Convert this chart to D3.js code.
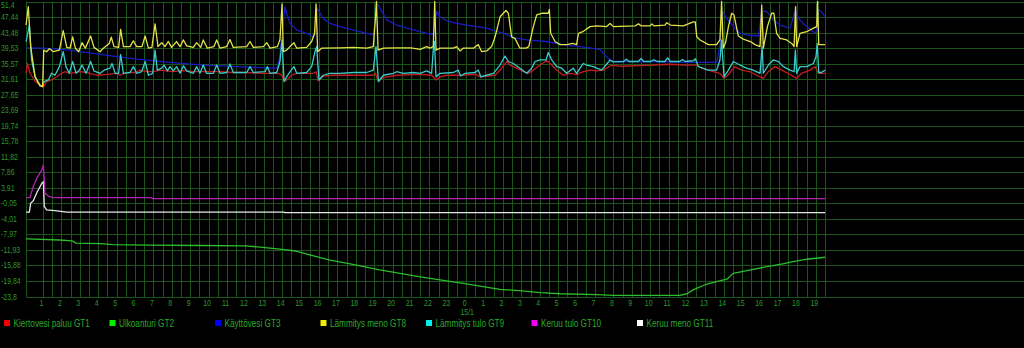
<!DOCTYPE html>
<html lang="fi">
<head>
<meta charset="utf-8">
<title>Lämpötilat</title>
<script src="https://d3js.org/d3.v7.min.js"></script>
<style>
  html, body { margin: 0; padding: 0; background: #000; overflow: hidden; }
  svg { display: block; }
  text { font-family: "Liberation Sans", Arial, sans-serif; }
</style>
</head>
<body>
<div id="chart"></div>
<script>
// time is hours counted from 14/1 00:00, values in degrees

var yTicks = [51.4, 47.44, 43.48, 39.53, 35.57, 31.61, 27.65, 23.69, 19.74, 15.78,
    11.82, 7.86, 3.91, -0.05, -4.01, -7.97, -11.93, -15.88, -19.84, -23.8];
var hourTicks = d3.range(1, 44);   // 1..23, 0 (15/1), 1..19
var dayLabel = "15/1";

var names = ["Kiertovesi paluu GT1", "Ulkoanturi GT2", "Käyttövesi GT3", "Lämmitys meno GT8",
    "Lämmitys tulo GT9", "Keruu tulo GT10", "Keruu meno GT11"];

var gt1 = [[0.08,33.1],[0.15,35.6],[0.3,33.1],[0.57,31.0],[0.84,30.1],[1.02,29.5],[1.2,31.0],[1.47,31.4],[1.74,32.2],[2.01,33.1],[2.2,33.5],[2.47,33.1],[3.01,33.5],[3.4,33.3],[3.92,32.6],[4.5,32.8],[5.0,33.1],[5.18,32.6],[5.55,33.3],[6.0,33.3],[6.27,33.9],[6.65,33.5],[7.0,33.5],[7.36,33.9],[7.72,33.7],[8.08,33.5],[8.45,33.7],[8.81,33.7],[9.17,33.5],[9.89,33.5],[10.62,33.5],[11.34,33.3],[12.07,33.3],[12.79,33.1],[13.79,33.1],[13.97,32.6],[14.15,31.0],[14.33,31.8],[14.51,32.6],[14.79,33.1],[15.69,33.1],[15.84,33.5],[15.96,31.2],[16.23,32.4],[16.77,32.6],[17.87,32.6],[18.95,32.6],[19.06,33.1],[19.23,31.0],[19.41,31.8],[19.68,32.2],[20.22,32.6],[21.49,32.8],[22.12,32.6],[22.36,31.4],[22.58,32.2],[22.94,32.6],[23.66,32.6],[24.57,32.8],[24.75,32.2],[25.57,32.6],[25.93,34.4],[26.2,36.1],[26.38,35.2],[26.74,34.4],[27.11,33.5],[27.38,33.1],[27.65,33.9],[28.01,35.2],[28.37,36.3],[28.65,35.2],[28.92,33.9],[29.28,32.6],[29.64,33.1],[30.0,32.8],[30.37,33.5],[30.73,33.9],[31.09,33.7],[31.45,33.9],[31.9,35.2],[32.36,34.9],[34.17,35.2],[35.08,35.4],[35.98,35.2],[36.53,35.2],[36.8,34.4],[37.16,33.9],[37.43,33.5],[37.79,33.1],[38.01,31.8],[38.25,32.8],[38.6,34.8],[38.97,33.9],[39.42,33.5],[39.79,32.6],[40.15,31.8],[40.42,33.5],[40.78,34.8],[41.15,33.9],[41.6,32.8],[41.96,31.8],[42.23,33.1],[42.69,33.9],[42.96,34.8],[43.14,33.1],[43.5,33.1]];

var gt2 = [[0.08,-9.1],[1.92,-9.4],[2.58,-9.6],[2.79,-10.2],[4.1,-10.3],[4.8,-10.6],[6.8,-10.7],[9.53,-10.8],[11.98,-10.9],[12.8,-11.2],[13.88,-11.7],[14.7,-12.2],[15.5,-13.2],[16.6,-14.5],[17.7,-15.5],[19.3,-17.0],[21.5,-18.8],[23.66,-20.3],[25.84,-22.0],[26.9,-22.3],[28.0,-22.8],[29.1,-23.1],[31.1,-23.3],[31.98,-23.5],[35.62,-23.5],[36.0,-23.1],[36.33,-22.1],[36.98,-20.8],[37.6,-20.0],[38.17,-19.4],[38.5,-17.9],[39.26,-17.2],[40.35,-16.2],[41.2,-15.5],[41.76,-14.9],[42.52,-14.3],[43.5,-13.8]];

var gt3 = [[0.08,39.6],[1.02,39.5],[2.47,39.0],[4.28,37.8],[6.09,36.7],[7.9,35.9],[9.71,35.2],[11.52,34.8],[13.7,34.4],[13.84,36.5],[14.0,43.1],[14.15,50.1],[14.24,48.4],[14.43,45.8],[14.79,44.1],[15.33,43.3],[15.69,42.4],[15.8,43.0],[15.9,49.7],[16.23,47.1],[16.6,45.8],[17.14,45.0],[17.87,44.1],[18.95,42.9],[19.05,46.0],[19.15,51.0],[19.31,49.7],[19.68,46.7],[20.22,45.4],[20.77,44.6],[21.49,43.7],[22.21,42.9],[22.3,46.0],[22.4,48.9],[22.58,47.5],[22.94,46.5],[23.3,46.0],[24.03,45.4],[25.11,44.6],[26.02,43.3],[26.56,42.2],[27.29,41.6],[28.37,41.2],[29.28,40.4],[30.19,39.9],[31.27,39.2],[31.63,37.3],[31.9,36.1],[34.17,36.1],[35.98,35.9],[37.61,35.9],[37.79,40.0],[37.94,48.9],[38.16,47.1],[38.52,45.0],[38.88,43.3],[39.24,42.9],[39.88,42.6],[40.06,48.9],[40.33,48.9],[40.69,46.7],[41.05,45.4],[41.6,44.6],[41.87,48.9],[42.14,46.7],[42.5,45.0],[42.96,43.3],[43.05,44.1],[43.14,49.3],[43.3,48.9],[43.5,47.5]];

var gt8 = [[0.08,45.4],[0.2,50.1],[0.33,39.9],[0.57,32.2],[0.84,29.9],[0.98,29.7],[1.04,39.0],[1.2,38.6],[1.34,39.4],[1.56,38.6],[1.89,39.0],[2.1,44.0],[2.29,39.7],[2.47,39.5],[2.61,42.4],[2.76,39.5],[2.94,38.6],[3.12,40.9],[3.3,39.5],[3.59,42.6],[3.77,39.7],[4.1,38.6],[4.28,39.5],[4.6,40.7],[4.71,42.3],[4.86,39.9],[5.11,39.7],[5.22,44.3],[5.37,39.9],[5.73,39.9],[5.91,41.4],[6.09,39.9],[6.38,39.9],[6.55,42.6],[6.73,39.5],[6.92,39.7],[7.09,45.7],[7.25,39.9],[7.45,40.9],[7.63,39.9],[7.81,41.2],[7.99,39.7],[8.26,41.2],[8.45,39.9],[8.63,41.6],[8.81,40.1],[9.17,39.7],[9.35,40.9],[9.57,39.7],[9.71,41.6],[9.93,39.5],[10.29,39.9],[10.44,41.6],[10.62,39.5],[10.98,39.9],[11.16,41.7],[11.34,39.7],[12.07,39.9],[12.25,41.2],[12.43,39.7],[12.98,39.9],[13.16,40.9],[13.34,39.5],[13.74,39.9],[13.88,41.7],[13.99,50.8],[14.06,38.6],[14.24,39.0],[14.46,40.1],[14.64,40.9],[14.79,39.5],[15.33,39.7],[15.6,41.2],[15.76,43.3],[15.84,50.8],[15.93,38.6],[16.14,39.5],[17.14,39.6],[17.87,39.7],[18.59,39.5],[18.95,39.9],[19.06,46.7],[19.12,51.4],[19.21,39.0],[19.5,39.5],[20.22,39.6],[21.0,39.6],[21.49,39.2],[21.85,39.9],[22.03,39.5],[22.21,39.9],[22.29,51.4],[22.36,39.0],[22.58,39.5],[23.3,39.5],[23.48,39.9],[23.66,38.8],[23.84,39.5],[24.39,39.5],[24.66,40.4],[24.84,38.6],[25.11,38.8],[25.38,39.9],[25.57,42.4],[25.84,47.5],[26.16,49.1],[26.29,48.4],[26.47,42.4],[26.65,42.0],[26.92,39.5],[27.25,39.5],[27.4,39.9],[27.65,45.0],[27.83,48.0],[28.1,48.4],[28.46,48.4],[28.52,49.4],[28.59,43.3],[28.83,41.2],[29.1,40.4],[29.46,40.4],[29.79,40.7],[30.0,40.4],[30.1,43.3],[30.37,43.8],[30.73,45.0],[31.09,45.2],[31.63,45.0],[31.82,45.8],[32.0,45.0],[33.2,45.2],[33.36,45.7],[33.5,45.2],[33.99,45.2],[34.1,45.7],[34.2,45.2],[34.8,45.4],[34.9,46.0],[35.1,45.4],[35.8,45.2],[36.34,46.2],[36.45,46.2],[36.53,42.4],[36.71,41.6],[37.16,40.4],[37.61,40.4],[37.79,41.6],[37.88,51.4],[37.97,39.5],[38.1,41.0],[38.25,45.0],[38.43,48.4],[38.55,48.0],[38.79,42.6],[39.06,41.8],[39.44,41.2],[39.7,40.4],[39.97,39.9],[40.06,50.5],[40.15,39.5],[40.37,45.0],[40.6,48.4],[40.72,48.4],[40.87,43.3],[41.06,42.0],[41.42,41.6],[41.69,40.7],[41.82,39.9],[41.9,50.1],[41.96,39.9],[42.14,43.3],[42.5,43.7],[42.87,44.6],[43.05,45.0],[43.1,51.4],[43.16,40.4],[43.5,40.4]];

var gt9 = [[0.08,41.2],[0.26,45.4],[0.38,36.5],[0.57,32.2],[0.84,30.1],[0.98,29.7],[1.06,31.0],[1.29,31.4],[1.47,33.1],[1.65,32.6],[1.89,34.8],[2.1,38.6],[2.25,34.8],[2.43,33.1],[2.61,36.1],[2.8,33.1],[2.98,33.9],[3.12,35.2],[3.34,33.1],[3.59,36.1],[3.77,33.7],[4.1,33.1],[4.32,33.9],[4.64,34.4],[4.75,35.6],[4.92,33.1],[5.11,33.1],[5.22,37.9],[5.37,33.1],[5.73,33.3],[5.91,34.8],[6.09,33.1],[6.36,33.5],[6.55,36.1],[6.73,32.6],[6.96,33.1],[7.09,39.0],[7.21,33.9],[7.45,34.4],[7.58,35.2],[7.76,33.7],[7.9,34.8],[8.08,33.7],[8.26,34.8],[8.45,33.1],[8.63,35.0],[8.81,33.7],[9.17,33.1],[9.35,34.8],[9.53,33.1],[9.71,35.2],[9.89,33.1],[10.26,33.1],[10.44,35.2],[10.62,33.1],[10.98,33.3],[11.16,35.5],[11.34,33.3],[12.07,33.3],[12.25,34.8],[12.43,33.3],[13.07,33.5],[13.19,34.8],[13.34,33.1],[13.7,33.3],[13.88,36.1],[13.99,41.6],[14.1,31.0],[14.24,32.2],[14.46,33.7],[14.64,34.8],[14.79,33.1],[15.33,33.3],[15.6,34.8],[15.8,39.0],[15.87,39.9],[16.0,31.4],[16.23,32.6],[16.6,33.1],[17.14,33.1],[17.87,33.3],[18.59,33.3],[18.95,33.9],[19.1,39.9],[19.23,31.0],[19.5,32.6],[20.04,33.1],[20.22,33.5],[20.58,33.1],[21.13,33.3],[21.49,33.1],[21.85,33.7],[22.12,33.1],[22.21,39.0],[22.27,41.2],[22.36,32.2],[22.58,33.1],[23.3,33.3],[23.57,33.9],[23.7,32.4],[23.94,33.1],[24.48,33.3],[24.66,33.9],[24.79,32.2],[25.11,32.6],[25.48,33.1],[25.84,35.2],[26.11,37.5],[26.29,36.1],[26.56,35.6],[26.92,34.4],[27.29,33.1],[27.56,34.4],[27.74,36.1],[28.01,36.5],[28.34,36.5],[28.46,38.4],[28.65,36.5],[28.92,34.8],[29.19,34.4],[29.46,33.1],[29.82,34.4],[30.0,33.1],[30.19,34.4],[30.37,35.6],[30.55,35.2],[30.91,34.8],[31.36,33.9],[31.63,35.4],[31.82,36.5],[32.0,36.0],[32.55,36.1],[32.7,36.7],[32.85,36.1],[33.36,36.1],[33.5,36.9],[33.65,36.1],[34.0,36.1],[34.2,36.5],[34.4,36.1],[34.8,36.1],[34.95,37.0],[35.1,36.1],[35.6,36.1],[35.75,36.6],[35.9,36.1],[36.35,36.3],[36.45,36.8],[36.62,34.8],[37.16,33.9],[37.61,33.9],[37.79,36.5],[37.88,41.6],[38.01,32.2],[38.25,33.9],[38.52,36.1],[38.88,35.2],[39.24,34.4],[39.6,33.9],[39.97,33.1],[40.08,39.9],[40.15,33.1],[40.42,35.2],[40.69,36.5],[40.96,36.1],[41.24,34.8],[41.6,33.9],[41.82,33.5],[41.89,39.0],[41.96,33.1],[42.14,34.8],[42.5,34.8],[42.87,35.6],[43.01,37.3],[43.08,40.7],[43.16,33.3],[43.3,33.3],[43.5,33.9]];

var gt10 = [[0.08,1.4],[0.29,1.4],[0.47,4.2],[0.66,6.3],[0.93,8.4],[1.02,9.7],[1.11,2.5],[1.29,1.8],[1.56,1.4],[6.9,1.4],[6.95,1.15],[43.5,1.15]];

var gt11 = [[0.08,-2.3],[0.26,-2.3],[0.33,0.0],[0.47,0.6],[0.69,2.9],[0.93,5.0],[1.02,5.5],[1.07,-0.9],[1.2,-1.7],[1.65,-1.9],[2.29,-2.3],[14.1,-2.3],[14.15,-2.4],[43.5,-2.4]];

var series = [gt1, gt2, gt3, gt8, gt9, gt10, gt11];
var lineColors = ["#c41c1c", "#2cbc2c", "#1a1ac4", "#e2e24a", "#3ccaca", "#b024b0", "#e8e8e8"];
var boxColors = ["#f00000", "#00f000", "#0000f0", "#f0f000", "#00f0f0", "#f000f0", "#ffffff"];
var drawOrder = [1, 6, 5, 2, 0, 4, 3];

var W = 1024, H = 348;
var gridColor = "#1b551b", textColor = "#2a982a";

var svg = d3.select("#chart").append("svg")
    .attr("width", W)
    .attr("height", H);

svg.append("rect").attr("width", W).attr("height", H).attr("fill", "#000");

var x = d3.scaleLinear().domain([1, 43]).range([43, 815.8]);
var y = d3.scaleLinear().domain([51.4, -23.8]).range([1.5, 296.5]);
var t0 = 0.08, t1 = 43.5;
var left = x(t0);

function crisp(v) { return Math.round(v) + 0.5; }

// narrow text like the old windows font
function label(g, px, py, str, anchor, size, color) {
    g.append("text")
        .attr("transform", "translate(" + px + "," + py + ") scale(0.82,1)")
        .attr("text-anchor", anchor)
        .attr("font-size", size)
        .attr("fill", color)
        .text(str);
}

// grid
var grid = svg.append("g").attr("stroke", gridColor).attr("stroke-width", 1);
var vLines = [t0].concat(d3.range(1, t1 + 0.01, 0.5));
grid.selectAll("line.v").data(vLines).join("line")
    .attr("class", "v")
    .attr("x1", d => crisp(x(d))).attr("x2", d => crisp(x(d)))
    .attr("y1", y(yTicks[0])).attr("y2", crisp(y(yTicks[yTicks.length - 1])));
grid.selectAll("line.h").data(yTicks).join("line")
    .attr("class", "h")
    .attr("x1", crisp(left)).attr("x2", W)
    .attr("y1", d => crisp(y(d))).attr("y2", d => crisp(y(d)));

// y labels (top one pushed down so it stays inside the window)
var yl = svg.append("g");
yTicks.forEach(function (v) {
    label(yl, 1, Math.max(y(v) + 3, 7.5), String(v).replace(".", ","), "start", "8.5px", textColor);
});

// x labels
var xl = svg.append("g");
hourTicks.forEach(function (h) {
    label(xl, x(h) - 1.5, 306, String(h % 24), "middle", "8.5px", textColor);
});
label(xl, x(24) + 1, 315, dayLabel, "middle", "8.5px", textColor);

// lines
var line = d3.line().x(d => x(d[0])).y(d => y(d[1]));
var lines = svg.append("g").attr("fill", "none").attr("stroke-width", 1.3).attr("stroke-linejoin", "round");
drawOrder.forEach(function (i) {
    lines.append("path")
        .datum(series[i])
        .attr("stroke", lineColors[i])
        .attr("d", line);
});

// legend
var lg = svg.append("g");
names.forEach(function (n, i) {
    var lx = 4 + i * 105.5;
    lg.append("rect")
        .attr("x", lx).attr("y", 320)
        .attr("width", 6).attr("height", 6)
        .attr("fill", boxColors[i]);
    label(lg, lx + 9.5, 327, n, "start", "10px", "#2aa82a");
});
</script>
</body>
</html>
